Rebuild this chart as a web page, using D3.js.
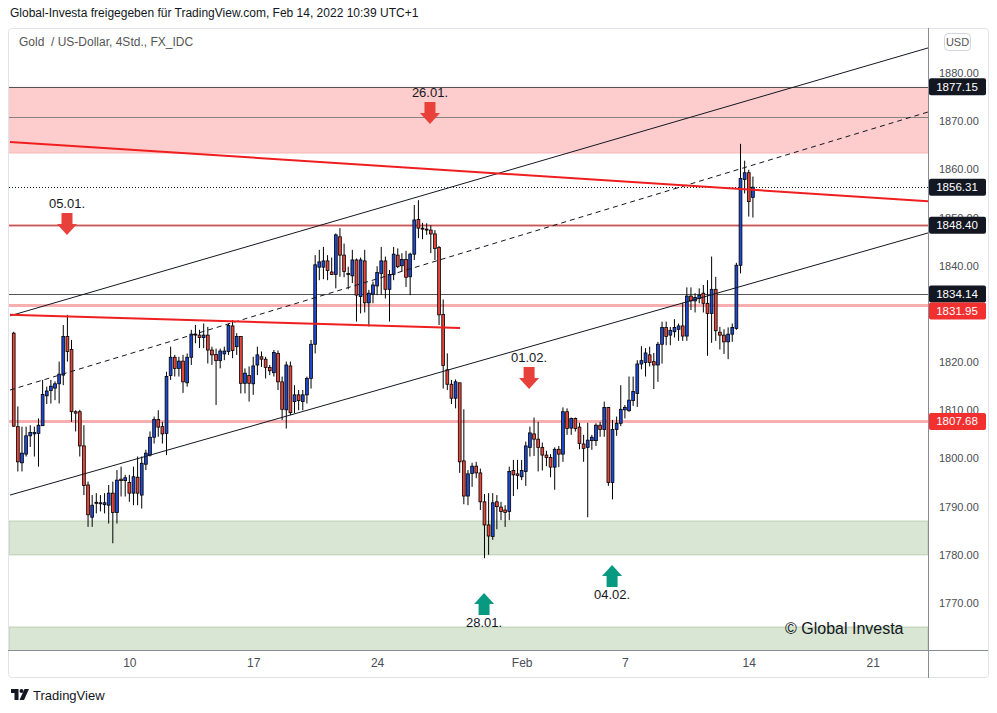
<!DOCTYPE html>
<html lang="de">
<head>
    <meta charset="UTF-8">
    <title>Gold / US-Dollar, 4Std., FX_IDC</title>
    <script src="https://d3js.org/d3.v7.min.js"></script>
    <style>
        body { margin: 0; background: #fff; }
        svg text { font-family: "Liberation Sans", Arial, sans-serif; }
        .tick-label { font-size: 11px; fill: #4a4d55; }
        .time-label { font-size: 12px; fill: #4a4d55; }
        .tag-text { font-size: 11.5px; fill: #fff; }
        .signal-text { font-size: 13px; fill: #131722; }
    </style>
</head>
<body>
<svg id="chart" width="997" height="713"></svg>
<script>
    // 4h candles (FX_IDC gold), bar 0 = Jan 5 morning ... bar 179 = Feb 14
    const opens = [
        1826.0,1806.6,1799.1,1800.9,1804.7,1805.1,1805.2,1806.8,1813.0,1814.1,
        1814.6,1815.5,1817.3,1825.3,1822.6,1809.7,1809.7,1802.6,1794.5,1787.8,
        1790.7,1790.8,1790.4,1790.3,1792.8,1788.8,1795.7,1795.4,1795.0,1792.8,
        1796.1,1792.4,1798.8,1800.7,1804.4,1808.1,1806.6,1805.2,1817.2,1821.0,
        1818.7,1820.2,1815.7,1821.0,1825.8,1825.6,1825.1,1825.6,1822.5,1821.6,
        1820.3,1821.7,1822.2,1827.5,1823.2,1825.3,1815.6,1817.2,1815.5,1819.4,
        1821.1,1820.6,1818.9,1817.8,1821.8,1815.9,1810.1,1819.2,1811.8,1813.2,
        1811.8,1813.2,1816.6,1823.7,1839.7,1839.7,1841.0,1838.7,1838.2,1846.0,
        1842.2,1838.4,1837.9,1841.2,1833.6,1841.0,1832.3,1834.1,1835.8,1838.4,
        1841.0,1835.1,1838.2,1842.2,1840.0,1841.3,1837.7,1842.4,1849.6,1847.8,
        1847.6,1847.4,1846.6,1843.8,1829.9,1818.4,1815.4,1812.5,1815.7,1799.5,
        1792.2,1796.9,1798.4,1797.0,1791.0,1786.2,1783.8,1791.0,1789.9,1789.3,
        1789.0,1797.5,1796.8,1796.2,1797.3,1802.3,1805.1,1804.0,1802.3,1800.7,
        1800.2,1798.2,1801.9,1800.9,1809.7,1806.3,1808.3,1806.5,1803.0,1802.3,
        1803.7,1803.7,1806.9,1806.0,1810.6,1795.0,1806.0,1807.3,1810.1,1809.9,
        1812.0,1813.5,1819.6,1819.9,1821.5,1820.1,1819.4,1823.7,1827.2,1825.6,
        1826.3,1826.8,1827.5,1825.4,1833.7,1832.7,1833.2,1834.3,1832.2,1830.1,
        1835.1,1826.2,1825.6,1824.2,1825.8,1827.0,1840.1,1857.9,1859.3,1854.2
    ];
    const highs = [
        1826.3,1810.8,1806.6,1806.6,1806.9,1806.6,1808.3,1816.3,1814.9,1816.3,
        1816.0,1820.1,1827.7,1829.8,1824.6,1810.0,1810.1,1806.9,1795.2,1792.4,
        1792.8,1792.4,1792.8,1794.5,1795.2,1797.6,1798.3,1796.6,1796.6,1798.3,
        1800.4,1800.4,1801.8,1805.6,1808.7,1810.0,1807.6,1818.0,1823.2,1821.5,
        1821.1,1821.5,1821.8,1826.7,1827.7,1826.7,1828.0,1827.3,1823.2,1822.8,
        1822.8,1823.2,1828.0,1828.7,1826.0,1825.3,1818.7,1819.1,1821.1,1823.2,
        1822.2,1821.1,1819.4,1822.5,1822.4,1817.0,1820.1,1820.1,1815.2,1814.2,
        1814.2,1817.0,1824.6,1842.2,1843.3,1843.9,1842.2,1841.7,1846.7,1847.8,
        1844.6,1839.8,1843.3,1841.5,1841.7,1843.3,1835.0,1836.7,1839.9,1843.9,
        1841.9,1839.1,1843.9,1843.6,1842.6,1843.1,1842.7,1852.6,1853.6,1848.9,
        1848.8,1848.4,1847.4,1844.1,1833.0,1821.8,1816.3,1816.4,1815.7,1810.2,
        1797.6,1799.1,1799.3,1797.9,1792.6,1792.8,1792.8,1792.4,1791.0,1790.3,
        1798.3,1799.7,1799.7,1799.7,1803.5,1806.6,1808.5,1807.6,1803.3,1801.6,
        1800.9,1802.3,1802.6,1810.6,1810.4,1808.5,1808.5,1807.4,1804.9,1807.4,
        1804.9,1807.3,1807.6,1811.8,1810.7,1808.0,1808.7,1815.2,1811.1,1817.0,
        1817.0,1820.4,1823.3,1822.9,1823.2,1821.9,1824.2,1828.4,1828.4,1827.3,
        1828.9,1828.0,1832.3,1835.5,1835.5,1834.3,1835.3,1836.0,1837.0,1841.9,
        1837.7,1827.3,1826.8,1827.2,1828.0,1840.6,1865.3,1861.8,1859.9,1858.5
    ];
    const lows = [
        1806.6,1797.3,1797.3,1800.4,1802.4,1800.4,1798.3,1806.8,1811.3,1811.4,
        1812.1,1811.4,1815.2,1820.1,1807.6,1805.6,1800.4,1792.4,1785.8,1785.8,
        1788.6,1789.0,1788.6,1786.5,1782.4,1786.5,1792.1,1792.1,1791.0,1790.3,
        1790.3,1789.6,1797.6,1800.4,1803.1,1804.5,1803.1,1800.7,1816.3,1817.0,
        1817.0,1813.6,1814.9,1819.4,1823.9,1822.9,1822.9,1819.7,1819.4,1811.1,
        1818.7,1820.4,1821.5,1820.8,1821.5,1813.5,1813.5,1811.8,1813.2,1817.3,
        1819.0,1816.6,1817.3,1817.0,1814.2,1808.0,1806.2,1809.0,1809.4,1810.0,
        1810.0,1811.4,1814.5,1821.8,1837.0,1837.2,1837.0,1838.1,1835.3,1837.7,
        1837.6,1835.1,1836.4,1828.4,1830.1,1830.3,1827.4,1832.2,1833.9,1834.0,
        1833.2,1828.4,1837.0,1839.5,1838.8,1835.6,1833.9,1841.2,1845.7,1845.5,
        1846.4,1842.6,1841.2,1827.7,1814.5,1814.2,1811.3,1810.4,1797.0,1790.5,
        1790.3,1794.1,1795.9,1789.3,1779.3,1780.0,1783.1,1785.3,1787.2,1785.8,
        1787.2,1792.2,1793.6,1795.5,1794.3,1800.4,1800.5,1797.3,1797.5,1798.4,
        1796.1,1793.5,1798.2,1799.3,1804.9,1804.9,1805.6,1801.9,1799.3,1787.8,
        1801.8,1802.6,1804.5,1804.5,1794.3,1791.5,1804.7,1806.7,1808.3,1809.7,
        1810.9,1810.7,1818.5,1817.0,1819.1,1814.4,1815.9,1819.7,1823.5,1823.5,
        1825.1,1824.4,1824.4,1824.4,1830.8,1830.3,1832.2,1830.3,1821.3,1824.0,
        1824.4,1822.6,1821.7,1820.6,1824.2,1826.7,1838.4,1855.0,1850.2,1850.0
    ];
    const closes = [
        1806.7,1799.3,1801.1,1804.7,1805.4,1805.4,1806.9,1813.3,1814.0,1815.0,
        1815.5,1817.5,1825.3,1822.2,1809.7,1809.4,1802.6,1794.4,1788.3,1790.3,
        1790.9,1790.6,1790.8,1792.8,1788.8,1795.5,1795.4,1796.0,1792.8,1796.2,
        1792.8,1799.0,1801.1,1804.4,1808.1,1806.5,1805.1,1817.0,1821.0,1818.7,
        1820.2,1815.9,1821.0,1825.8,1825.6,1825.1,1825.6,1822.5,1821.5,1820.3,
        1822.3,1822.3,1827.6,1822.4,1825.3,1815.6,1817.7,1815.6,1819.2,1821.5,
        1820.6,1818.9,1818.2,1822.0,1815.9,1810.2,1819.4,1809.5,1813.2,1812.0,
        1813.2,1816.6,1823.7,1840.2,1840.8,1841.0,1839.0,1838.2,1846.4,1842.2,
        1838.8,1838.2,1841.2,1833.9,1841.2,1832.3,1834.3,1836.0,1838.6,1841.0,
        1835.1,1838.2,1842.4,1839.8,1841.3,1837.6,1842.4,1849.5,1847.8,1847.6,
        1847.4,1846.6,1843.6,1829.8,1819.3,1815.4,1812.5,1815.9,1799.3,1792.2,
        1796.8,1798.4,1797.0,1791.0,1786.2,1783.9,1790.8,1790.0,1789.0,1788.8,
        1797.3,1796.6,1796.5,1797.5,1802.6,1805.3,1804.0,1802.3,1800.7,1800.2,
        1798.2,1801.9,1800.9,1809.7,1806.2,1808.3,1806.2,1803.1,1802.1,1803.8,
        1804.4,1806.9,1806.0,1810.6,1795.0,1806.0,1807.3,1810.2,1810.6,1812.1,
        1813.9,1819.6,1820.3,1821.9,1819.9,1819.4,1823.7,1827.2,1825.3,1826.6,
        1827.2,1827.5,1825.4,1833.7,1832.7,1833.4,1833.9,1832.2,1830.1,1835.1,
        1826.5,1825.6,1824.2,1825.8,1827.2,1840.1,1858.1,1859.3,1853.3,1856.3
    ];

    // axis ticks (1830.00 sits fully behind the price tags, so it is left out)
    const timeTickBars = [28, 58, 88, 123, 148, 178, 208];
    const timeTickLabels = ["10", "17", "24", "Feb", "7", "14", "21"];
    const priceTicks = [1880, 1870, 1860, 1850, 1840, 1820, 1810, 1800, 1790, 1780, 1770];

    // drawn zones and levels
    const resistanceZone = [1863.4, 1877.15];
    const supportZones = [[1780.0, 1787.0], [1755.0, 1765.0]];
    const blackLevels = [1877.15, 1834.14];
    const greyLevels = [1870.9];
    const keyLevel = 1848.40;
    const pinkLevels = [1831.95, 1807.68];
    const lastPrice = 1856.31;

    // trend lines as [bar, price] anchor pairs
    const channelUpper = [[-0.9, 1829.6], [221.4, 1885.2]];
    const channelMid = [[-0.9, 1814.2], [221.4, 1871.9]];
    const channelLower = [[-0.9, 1792.4], [221.4, 1846.8]];
    const redTrendLong = [[-0.9, 1865.7], [221.4, 1853.4]];
    const redTrendShort = [[-0.9, 1829.8], [108.1, 1827.1]];

    // signal arrows: label, bar, price at arrow tip
    const sellSignals = [["05.01.", 12.9, 1846.4], ["26.01.", 100.8, 1869.4], ["01.02.", 124.8, 1814.4]];
    const buySignals = [["28.01.", 113.9, 1772.1], ["04.02.", 144.9, 1777.9]];

    const svg = d3.select("#chart");

    // pane geometry
    const pane = {left: 9, right: 928, top: 29, bottom: 650};
    const x = d3.scaleLinear().domain([-0.9, 221.4]).range([10, 928]);
    const y = d3.scaleLinear().domain([1880, 1770]).range([73, 603]);

    // header text
    svg.append("text")
        .attr("x", 10).attr("y", 17)
        .style("font-size", "12px").style("fill", "#131722")
        .text("Global-Investa freigegeben für TradingView.com, Feb 14, 2022 10:39 UTC+1");

    // outer frame
    svg.append("rect")
        .attr("x", 8.5).attr("y", 28.5).attr("width", 980).attr("height", 649)
        .attr("rx", 3)
        .attr("fill", "none").attr("stroke", "#e0e3eb");

    svg.append("defs").append("clipPath").attr("id", "pane")
        .append("rect")
        .attr("x", pane.left).attr("y", pane.top)
        .attr("width", pane.right - pane.left).attr("height", pane.bottom - pane.top);

    const g = svg.append("g").attr("clip-path", "url(#pane)");

    // zones
    g.append("rect")
        .attr("x", pane.left).attr("width", pane.right - pane.left)
        .attr("y", y(resistanceZone[1])).attr("height", y(resistanceZone[0]) - y(resistanceZone[1]))
        .attr("fill", "rgba(247,62,62,0.26)");
    g.append("line")
        .attr("x1", pane.left).attr("x2", pane.right)
        .attr("y1", y(resistanceZone[0])).attr("y2", y(resistanceZone[0]))
        .attr("stroke", "#f4b5b5").attr("stroke-width", 1);

    g.selectAll(".support").data(supportZones).enter()
        .append("rect")
        .attr("class", "support")
        .attr("x", pane.left).attr("width", pane.right - pane.left)
        .attr("y", d => y(d[1])).attr("height", d => y(d[0]) - y(d[1]))
        .attr("fill", "rgba(80,140,60,0.22)")
        .attr("stroke", "#b9ceb2").attr("stroke-width", 1);

    // horizontal levels
    function hline(price, color, width, dash) {
        g.append("line")
            .attr("x1", pane.left).attr("x2", pane.right)
            .attr("y1", Math.round(y(price)) + 0.5).attr("y2", Math.round(y(price)) + 0.5)
            .attr("stroke", color).attr("stroke-width", width)
            .attr("stroke-dasharray", dash || null);
    }
    pinkLevels.forEach(p => hline(p, "#f7aeae", 3));
    hline(keyLevel, "#f3b3b3", 3);
    hline(keyLevel, "#b85e5e", 1);
    greyLevels.forEach(p => hline(p, "#6f6f6f", 0.8));
    blackLevels.forEach(p => hline(p, "#555", 1));
    hline(lastPrice, "#131722", 1, "1,2");

    // candles
    const bars = d3.range(opens.length);
    const candle = g.selectAll(".candle").data(bars).enter()
        .append("g").attr("class", "candle");

    candle.append("line")
        .attr("x1", i => x(i)).attr("x2", i => x(i))
        .attr("y1", i => y(highs[i])).attr("y2", i => y(lows[i]))
        .attr("stroke", "#000").attr("stroke-width", 1);

    candle.append("rect")
        .attr("x", i => x(i) - 1.4)
        .attr("width", 2.8)
        .attr("y", i => y(Math.max(opens[i], closes[i])))
        .attr("height", i => Math.max(1, Math.abs(y(opens[i]) - y(closes[i]))))
        .attr("fill", i => closes[i] >= opens[i] ? "#1f49d3" : "#e8453c")
        .attr("stroke", "#000").attr("stroke-width", 0.8);

    // trend lines
    function tline(pts, color, width, dash) {
        g.append("line")
            .attr("x1", x(pts[0][0])).attr("y1", y(pts[0][1]))
            .attr("x2", x(pts[1][0])).attr("y2", y(pts[1][1]))
            .attr("stroke", color).attr("stroke-width", width)
            .attr("stroke-dasharray", dash || null);
    }
    tline(channelUpper, "#131722", 1);
    tline(channelMid, "#131722", 1, "5,4");
    tline(channelLower, "#131722", 1);
    tline(redTrendLong, "#f01e1e", 2);
    tline(redTrendShort, "#f01e1e", 2);

    // signal arrows
    function arrow(cx, tip, dir, color) {
        // dir = 1 points down, -1 points up
        const s = dir;
        const pts = [
            [cx - 5.5, tip - s * 22], [cx + 5.5, tip - s * 22],
            [cx + 5.5, tip - s * 11], [cx + 10, tip - s * 11],
            [cx, tip], [cx - 10, tip - s * 11], [cx - 5.5, tip - s * 11]
        ];
        g.append("polygon")
            .attr("points", pts.map(p => p.join(",")).join(" "))
            .attr("fill", color);
    }
    sellSignals.forEach(d => {
        arrow(x(d[1]), y(d[2]), 1, "#e8403a");
        g.append("text").attr("class", "signal-text")
            .attr("x", x(d[1])).attr("y", y(d[2]) - 27)
            .attr("text-anchor", "middle").text(d[0]);
    });
    buySignals.forEach(d => {
        arrow(x(d[1]), y(d[2]), -1, "#089981");
        g.append("text").attr("class", "signal-text")
            .attr("x", x(d[1])).attr("y", y(d[2]) + 34)
            .attr("text-anchor", "middle").text(d[0]);
    });

    // pane legend and watermark
    svg.append("text")
        .attr("x", 19).attr("y", 46)
        .style("font-size", "12px").style("fill", "#555")
        .text("Gold\u00a0\u00a0/ US-Dollar, 4Std., FX_IDC");
    svg.append("text")
        .attr("x", 785).attr("y", 634)
        .style("font-size", "16px").style("fill", "#131722")
        .text("© Global Investa");

    // axes frame lines
    svg.append("line")
        .attr("x1", pane.right + 0.5).attr("x2", pane.right + 0.5)
        .attr("y1", 28).attr("y2", 678)
        .attr("stroke", "#8a8d95");
    svg.append("line")
        .attr("x1", 8).attr("x2", 988)
        .attr("y1", pane.bottom + 0.5).attr("y2", pane.bottom + 0.5)
        .attr("stroke", "#8a8d95");

    // time axis
    const xAxis = d3.axisBottom(x)
        .tickValues(timeTickBars)
        .tickFormat((d, i) => timeTickLabels[i])
        .tickSize(0).tickPadding(8);
    const xa = svg.append("g")
        .attr("transform", `translate(0,${pane.bottom})`)
        .call(xAxis);
    xa.select(".domain").remove();
    xa.selectAll("text").attr("class", "time-label").attr("font-size", null).attr("font-family", null);

    // price axis
    const yAxis = d3.axisRight(y)
        .tickValues(priceTicks)
        .tickFormat(d3.format(".2f"))
        .tickSize(0).tickPadding(11);
    const ya = svg.append("g")
        .attr("transform", `translate(${pane.right},0)`)
        .call(yAxis);
    ya.select(".domain").remove();
    ya.selectAll("text").attr("class", "tick-label").attr("font-size", null).attr("font-family", null);

    // USD box
    svg.append("rect")
        .attr("x", 944.5).attr("y", 33.5).attr("width", 26).attr("height", 17).attr("rx", 4)
        .attr("fill", "#fff").attr("stroke", "#d1d4dc");
    svg.append("text")
        .attr("x", 957.5).attr("y", 46)
        .attr("text-anchor", "middle")
        .style("font-size", "11px").style("fill", "#555")
        .text("USD");

    // price tags, pushed apart when they overlap
    const tags = [
        {price: resistanceZone[1], color: "#131722"},
        {price: lastPrice, color: "#131722"},
        {price: keyLevel, color: "#131722"},
        {price: blackLevels[1], color: "#131722"},
        {price: pinkLevels[0], color: "#f23030"},
        {price: pinkLevels[1], color: "#f23030"}
    ].sort((a, b) => b.price - a.price);
    let prevY = -100;
    tags.forEach(t => {
        t.y = Math.max(y(t.price), prevY + 17);
        prevY = t.y;
    });
    const tag = svg.selectAll(".tag").data(tags).enter()
        .append("g").attr("class", "tag");
    tag.append("rect")
        .attr("x", 929).attr("y", d => d.y - 8.5)
        .attr("width", 57).attr("height", 17).attr("rx", 2)
        .attr("fill", d => d.color);
    tag.append("text")
        .attr("class", "tag-text")
        .attr("x", 957).attr("y", d => d.y + 4)
        .attr("text-anchor", "middle")
        .text(d => d3.format(".2f")(d.price));

    // TradingView logo
    const logo = svg.append("g").attr("transform", "translate(11,689)");
    logo.append("path")
        .attr("d", "M0,0 H7.5 V11 H3.5 V4 H0 Z")
        .attr("fill", "#131722");
    logo.append("circle").attr("cx", 10.5).attr("cy", 2).attr("r", 2).attr("fill", "#131722");
    logo.append("path")
        .attr("d", "M13.5,0 H18 L13,11 H8.5 Z")
        .attr("fill", "#131722");
    svg.append("text")
        .attr("x", 33).attr("y", 700)
        .style("font-size", "13px").style("fill", "#131722")
        .text("TradingView");
</script>
</body>
</html>
